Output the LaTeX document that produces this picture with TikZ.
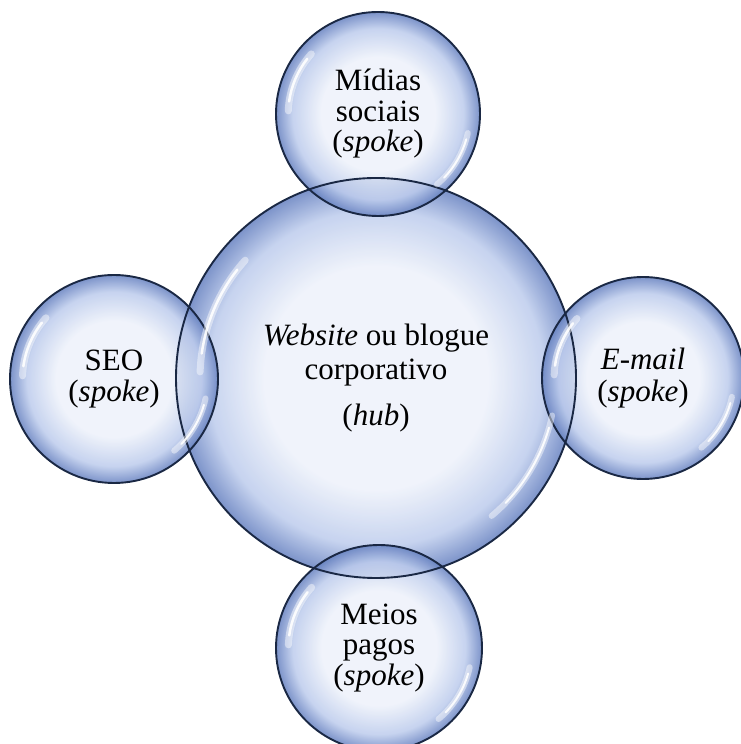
\documentclass[tikz,border=0pt]{standalone}
\usepackage{fontspec}
\setmainfont{Liberation Serif}
\usetikzlibrary{
		calc
	}
\definecolor{bubin}{HTML}{EDF1FA}
\definecolor{bubmid}{HTML}{BCCBEC}
\definecolor{bubout}{HTML}{6580C0}
\definecolor{bubrim}{HTML}{1A2844}
\pgfdeclareradialshading{bubshade}{\pgfpointorigin}{%
  color(0bp)=(bubin); color(14bp)=(bubin); color(21bp)=(bubmid);
  color(25bp)=(bubout); color(50bp)=(bubout)}
\tikzset{
		>=stealth,
		bubble/.style={circle, inner sep=0pt, shade, shading=bubshade,
			fill opacity=0.85, text opacity=1, align=center,
			font=\fontsize{31}{30.5}\selectfont},
		rim/.style={draw=bubrim, line width=1.9pt},
		glint/.style={draw=white, line width=#1, line cap=round, opacity=0.45},
		shine/.style={draw=white, line width=#1, line cap=round, opacity=0.9}
	}

\begin{document}
\begin{tikzpicture}[x=1pt,y=1pt]
    \useasboundingbox (0,0) rectangle (740,744);

    % the hub in the middle
    \node[bubble, minimum size=400pt, font=\fontsize{31}{34}\selectfont] (hub) at (376,366)
        {\textit{Website} ou blogue\\corporativo\\[12pt](\textit{hub})};

    % the spokes round it
    \node[bubble, minimum size=204pt] (social) at (378,630)
        {Mídias\\sociais\\(\textit{spoke})};
    \node[bubble, minimum size=208pt] (seo) at (114,365)
        {SEO\\[1pt](\textit{spoke})};
    \node[bubble, minimum size=202pt] (email) at (643,366)
        {\textit{E-mail}\\[1pt](\textit{spoke})};
    \node[bubble, minimum size=206pt] (paid) at (379,96)
        {Meios\\pagos\\(\textit{spoke})};

    % the rims, drawn last so that they show through the overlaps
    \foreach \n/\r in {hub/200, social/102, seo/104, email/101, paid/103}
        \draw[rim] (\n.center) circle[radius=\r];

    % the white glints on each bubble
    \foreach \n/\r in {hub/200, social/102, seo/104, email/101, paid/103} {
        \draw[glint=7pt] ($(\n.center)+(138:0.88*\r)$)
            arc[start angle=138, end angle=178, radius=0.88*\r];
        \draw[shine=2.5pt] ($(\n.center)+(142:0.88*\r)$)
            arc[start angle=142, end angle=172, radius=0.88*\r];
        \draw[glint=6pt] ($(\n.center)+(-12:0.9*\r)$)
            arc[start angle=-12, end angle=-50, radius=0.9*\r];
        \draw[shine=2pt] ($(\n.center)+(-16:0.9*\r)$)
            arc[start angle=-16, end angle=-44, radius=0.9*\r];
    }

\end{tikzpicture}
\end{document}
